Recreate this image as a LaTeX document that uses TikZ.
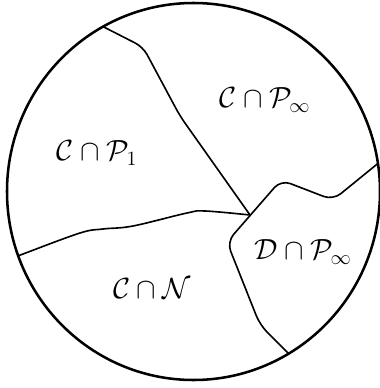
\documentclass[tikz,border=0pt]{standalone}
\usepackage{amsmath}
\tikzset{
  region/.style={font=\fontsize{19.5}{23}\selectfont},
  border/.style={line width=1.15pt}
}
\begin{document}
\begin{tikzpicture}[x=0.025cm,y=-0.025cm]
    \useasboundingbox (0,0) rectangle (380,388);
    % Meeting point of the borders
    \coordinate (junc) at (250,215);
    \begin{scope}
      \clip (193.5,191.5) ellipse [x radius=186.5, y radius=188.5];
      % Border between C cap P_1 and C cap P_infty
      \draw[border,rounded corners=6pt] (94,22) -- (143,47) -- (180,116) -- (junc);
      % Border between C cap P_1 and C cap N
      \draw[border] plot[smooth,tension=0.6] coordinates {(10,259) (23,254) (80,233) (103,229) (133,226) (187,213) (205,211) (junc)};
      % Border of D cap P_infty
      \draw[border,rounded corners=7pt] (392,152) -- (333,200) -- (281,180) -- (227,242) -- (260,325) -- (300,365);
    \end{scope}
    % Outer circle
    \draw[line width=1.8pt] (193.5,191.5) ellipse [x radius=186.5, y radius=188.5];
    % Labels
    \node[region] (cpinf) at (265,100) {$\mathcal{C}\cap\mathcal{P}_\infty$};
    \node[region] (cpone) at (97,153) {$\mathcal{C}\cap\mathcal{P}_1$};
    \node[region] (dpinf) at (303,252) {$\mathcal{D}\cap\mathcal{P}_\infty$};
    \node[region] (cn) at (152,289) {$\mathcal{C}\cap\mathcal{N}$};
\end{tikzpicture}
\end{document}
